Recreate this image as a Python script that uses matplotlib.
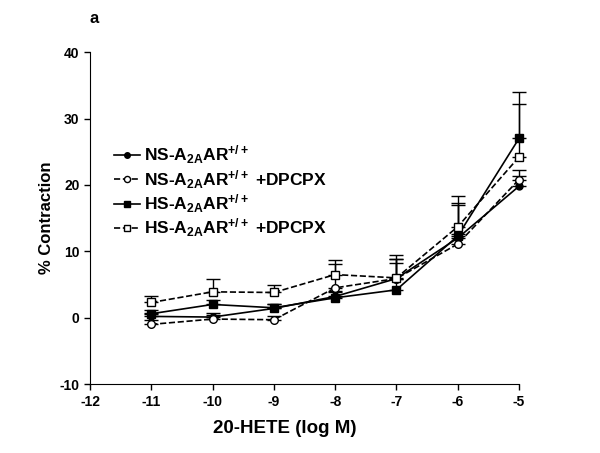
import numpy as np
import matplotlib.pyplot as plt

plt.rcParams['font.family'] = ['Liberation Sans', 'DejaVu Sans']
plt.rcParams['font.weight'] = 'bold'
plt.rcParams['axes.unicode_minus'] = False
plt.rcParams['mathtext.fontset'] = 'custom'
plt.rcParams['mathtext.rm'] = 'Liberation Sans:bold'
plt.rcParams['mathtext.it'] = 'Liberation Sans:bold'
plt.rcParams['mathtext.bf'] = 'Liberation Sans:bold'

# data (log M vs % contraction)
dose = [-11, -10, -9, -8, -7, -6, -5]

ns = [0.2, 0.1, 1.4, 3.2, 5.9, 12.0, 19.8]
ns_err = [0.5, 0.6, 0.6, 0.8, 2.4, 5.0, 1.5]

ns_dpcpx = [-1.0, -0.2, -0.3, 4.5, 5.9, 11.1, 20.8]
ns_dpcpx_err = [0.6, 0.6, 0.5, 3.6, 3.0, 1.5, 1.5]

hs = [0.6, 2.0, 1.5, 3.0, 4.2, 12.3, 27.0]
hs_err = [0.5, 0.7, 0.6, 0.8, 4.7, 5.0, 7.0]

hs_dpcpx = [2.3, 3.9, 3.8, 6.5, 6.0, 13.7, 24.2]
hs_dpcpx_err = [1.0, 2.0, 1.2, 2.2, 3.5, 4.7, 8.0]

labels = [r'NS-A$_{2A}$AR$^{+/+}$',
          r'NS-A$_{2A}$AR$^{+/+}$ +DPCPX',
          r'HS-A$_{2A}$AR$^{+/+}$',
          r'HS-A$_{2A}$AR$^{+/+}$ +DPCPX']

fig = plt.figure(figsize=(6, 4.53), dpi=100)
ax = fig.add_axes([0.15, 0.152, 0.715, 0.733])

series = [
    (ns, ns_err, 'o', 'black', '-', 5),
    (ns_dpcpx, ns_dpcpx_err, 'o', 'white', '--', 5.5),
    (hs, hs_err, 's', 'black', '-', 5.5),
    (hs_dpcpx, hs_dpcpx_err, 's', 'white', '--', 6),
]
handles = []
for (y, e, m, fc, ls, ms), lab in zip(series, labels):
    # upper error bars only
    eb = ax.errorbar(dose, y, yerr=[np.zeros(len(e)), e], fmt='none',
                     ecolor='black', elinewidth=1, capsize=5, capthick=1, zorder=2)
    for art in eb.get_children():
        art.set_clip_on(False)
    h, = ax.plot(dose, y, marker=m, markerfacecolor=fc, markeredgecolor='black',
                 markersize=ms, markeredgewidth=1, color='black', linestyle=ls,
                 linewidth=1.2, label=lab, zorder=3, clip_on=False)
    handles.append(h)

ax.set_xlim(-12, -5)
ax.set_ylim(-10, 40)
ax.set_xticks(range(-12, -4))
ax.set_yticks(range(-10, 41, 10))
for s in ['top', 'right']:
    ax.spines[s].set_visible(False)
ax.tick_params(labelsize=10, length=4, width=1)
for t in ax.get_xticklabels() + ax.get_yticklabels():
    t.set_fontweight('bold')

ax.set_xlabel('20-HETE (log M)', fontsize=13.5, fontweight='bold', labelpad=8)
ax.xaxis.label.set_x(0.455)
ax.set_ylabel('% Contraction', fontsize=12, fontweight='bold', labelpad=4)

leg = ax.legend(handles=handles, loc='upper left', bbox_to_anchor=(0.04, 0.745),
                frameon=False, fontsize=12.5, handlelength=1.5, handletextpad=0.25,
                labelspacing=0.1, borderaxespad=0, markerscale=0.8)

fig.text(0.15, 0.96, 'a', fontsize=12, fontweight='bold', ha='left', va='center')

fig.savefig('out.png', dpi=100)
